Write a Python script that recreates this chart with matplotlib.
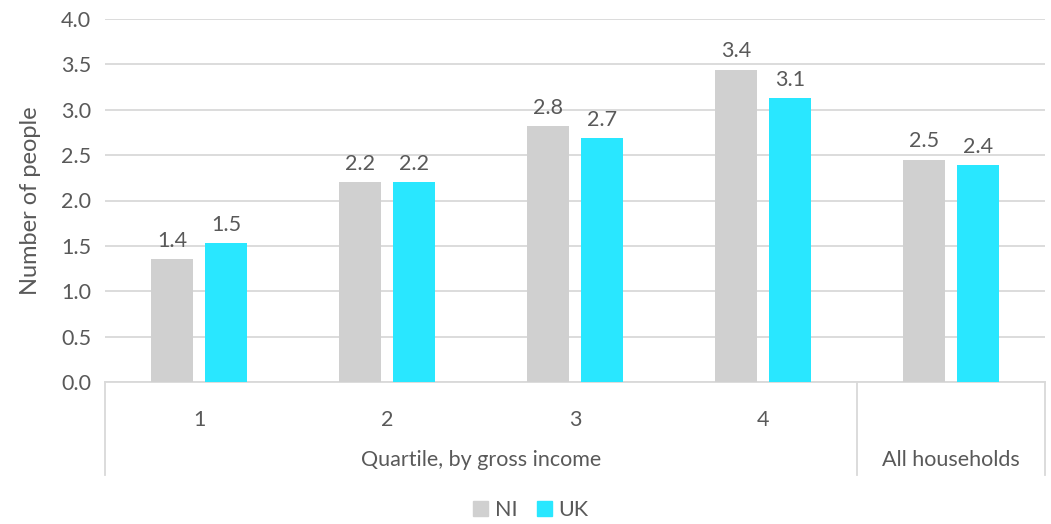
import matplotlib
matplotlib.use("Agg")
import matplotlib.pyplot as plt
from matplotlib.patches import Patch
import numpy as np

categories = ["1", "2", "3", "4", ""]
group_labels = ["Quartile, by gross income", "All households"]
ni_values = [1.35, 2.20, 2.82, 3.44, 2.45]
uk_values = [1.53, 2.20, 2.69, 3.13, 2.39]
series_names = ["NI", "UK"]
ni_color = "#D0D0D0"
uk_color = "#29E7FF"
text_color = "#595959"
grid_color = "#D9D9D9"

plt.rcParams['font.family'] = ['Lato', 'DejaVu Sans']
W, H = 1051, 524
fig = plt.figure(figsize=(W / 100, H / 100), dpi=100)
L, R, B, T = 105, 1045, 382, 19
ax = fig.add_axes([L / W, 1 - B / H, (R - L) / W, (B - T) / H])

x = np.arange(len(categories))
bw = 0.223
off = 0.144
b1 = ax.bar(x - off, ni_values, bw, color=ni_color, label=series_names[0], zorder=3)
b2 = ax.bar(x + off, uk_values, bw, color=uk_color, label=series_names[1], zorder=3)
fs = 15.5
ax.bar_label(b1, labels=[f"{v:.1f}" for v in ni_values], padding=6, color=text_color, fontsize=fs)
ax.bar_label(b2, labels=[f"{v:.1f}" for v in uk_values], padding=6, color=text_color, fontsize=fs)

ax.set_xlim(-0.5, len(categories) - 0.5)
ax.set_ylim(0, 4)
ax.set_yticks(np.arange(0, 4.01, 0.5))
ax.set_yticklabels([f"{v:.1f}" for v in np.arange(0, 4.01, 0.5)])
ax.yaxis.grid(True, color=grid_color, linewidth=1.3, zorder=0)
ax.set_axisbelow(True)
for s in ["top", "right", "left"]:
    ax.spines[s].set_visible(False)
ax.spines["bottom"].set_color(grid_color)
ax.spines["bottom"].set_linewidth(1.3)
ax.tick_params(axis="y", length=0, pad=10, labelsize=fs, labelcolor=text_color)
ax.set_xticks(x)
ax.set_xticklabels(categories)
ax.tick_params(axis="x", length=0, pad=20, labelsize=fs, labelcolor=text_color)
ax.set_ylabel("Number of people", fontsize=17, color=text_color, labelpad=14)

# multi-level category axis
trans = ax.get_xaxis_transform()
y_low = (B - 475) / (B - T)
for xv in [-0.5, 3.5, 4.5]:
    ax.plot([xv, xv], [0, y_low], transform=trans, color=grid_color, lw=1.3, clip_on=False)
y_grp = (B - 460) / (B - T)
ax.text(1.5, y_grp, group_labels[0], transform=trans, ha="center", va="center", fontsize=fs, color=text_color)
ax.text(4.0, y_grp, group_labels[1], transform=trans, ha="center", va="center", fontsize=fs, color=text_color)

handles = [Patch(color=ni_color), Patch(color=uk_color)]
fig.legend(handles, series_names, loc="center", bbox_to_anchor=(531 / W, 1 - 510 / H), ncol=2,
           frameon=False, fontsize=fs, labelcolor=text_color, handlelength=0.7, handleheight=0.7,
           handletextpad=0.3, columnspacing=0.9)

fig.savefig("out.png", dpi=100)
